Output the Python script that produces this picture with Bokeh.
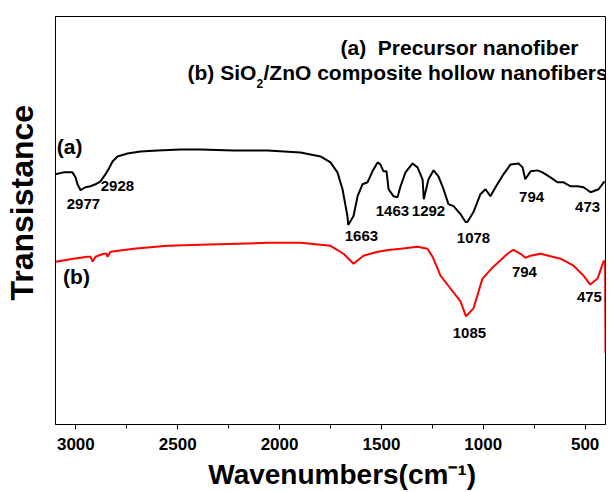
import math
from bokeh.plotting import figure
from bokeh.models import Range1d, SingleIntervalTicker, FixedTicker, Label
from bokeh.embed import file_html
from bokeh.resources import INLINE
from bokeh.core.properties import value

# ---- data (transmittance in arbitrary units) ----
wn_a = [3100, 3061, 3017, 3002, 2992, 2977, 2953, 2928, 2904, 2879, 2855, 2840, 2820, 2796,
        2747, 2683, 2599, 2486, 2388, 2226, 2059, 1897, 1799, 1750, 1716, 1691, 1667, 1663,
        1637, 1617, 1593, 1568, 1544, 1519, 1505, 1490, 1475, 1465, 1441, 1421, 1406, 1382,
        1347, 1323, 1298, 1292, 1269, 1244, 1220, 1195, 1171, 1146, 1112, 1087, 1078, 1048,
        1014, 989, 965, 940, 901, 866, 827, 807, 794, 768, 734, 709, 670, 636, 606, 572, 537,
        508, 473, 434, 405]
t_a = [252, 254, 254, 249, 242, 236, 239, 240, 242, 245, 252, 257, 265, 270,
       273, 275, 276, 277, 277, 276, 276, 274, 270, 264, 254, 237, 210, 201,
       210, 230, 242, 244, 255, 264, 262, 255, 255, 237, 230, 229, 240, 254,
       263, 259, 247, 227, 247, 256, 250, 237, 222, 220, 212, 204, 204, 214,
       232, 237, 230, 239, 252, 262, 263, 259, 247, 255, 256, 254, 249, 244, 244, 240, 240,
       239, 234, 237, 245]

wn_b = [3100, 3012, 2943, 2928, 2918, 2904, 2864, 2850, 2845, 2830, 2717, 2550, 2388, 2059,
        1897, 1750, 1686, 1637, 1588, 1519, 1455, 1406, 1323, 1274, 1249, 1210, 1161, 1112,
        1085, 1048, 1004, 950, 881, 852, 817, 793, 768, 719, 621, 557, 508, 475, 439, 410,
        402, 400]
t_b = [164, 167, 169, 169, 164, 169, 172, 172, 169, 174, 177, 180, 181, 183,
       183, 180, 172, 162, 170, 174, 176, 177, 179, 177, 169, 150, 137, 124,
       109, 117, 147, 159, 172, 176, 172, 168, 170, 172, 167, 160, 150, 141, 147, 164,
       165, 72]

peak_text_a = ["2977", "2928", "1663", "1463", "1292", "1078", "794", "473"]
peak_x_a = [2963, 2796, 1598, 1446, 1269, 1048, 763, 488]
peak_y_a = [222, 240, 190, 215, 215, 188, 229, 219]
peak_text_b = ["1085", "794", "475"]
peak_x_b = [1068, 798, 479]
peak_y_b = [92, 154, 128]

FONT = "Liberation Sans"

p = figure(width=609, height=492, x_range=Range1d(3100, 400), y_range=Range1d(0, 411),
           output_backend="svg", toolbar_location=None,
           min_border_left=55, min_border_right=4, min_border_top=16, min_border_bottom=65,
           outline_line_color="black", outline_line_width=1, background_fill_color="white")
p.grid.visible = False

ax = p.xaxis[0]
ax.ticker = SingleIntervalTicker(interval=500, num_minor_ticks=2)
ax.major_label_text_font = FONT
ax.major_label_text_font_size = "17px"
ax.major_label_text_font_style = "bold"
ax.major_label_text_color = "black"
ax.major_tick_in = 0
ax.major_tick_out = 5
ax.minor_tick_in = 0
ax.minor_tick_out = 4
ax.major_label_standoff = 8
ax.axis_line_color = "black"
ax.major_tick_line_color = "black"
ax.minor_tick_line_color = "black"
ax.axis_label = "\u00a0\u00a0\u00a0Wavenumbers(cm\u207b\u00b9)"
ax.axis_label_text_font = FONT
ax.axis_label_text_font_size = "28px"
ax.axis_label_text_font_style = "bold"
ax.axis_label_text_color = "black"
ax.axis_label_standoff = 6

ay = p.yaxis[0]
ay.ticker = FixedTicker(ticks=[])
ay.major_tick_in = 0
ay.major_tick_out = 0
ay.minor_tick_in = 0
ay.minor_tick_out = 0
ay.axis_line_color = "black"
ay.axis_label = "\u00a0\u00a0\u00a0\u00a0Transistance"
ay.axis_label_text_font = FONT
ay.axis_label_text_font_size = "32px"
ay.axis_label_text_font_style = "bold"
ay.axis_label_text_color = "black"
ay.axis_label_standoff = 16

p.line(wn_a, t_a, line_color="black", line_width=2)
p.line(wn_b, t_b, line_color="#ff0000", line_width=2)

common = dict(text_font=value(FONT), text_font_size="15px", text_font_style="bold",
              text_align="center", text_baseline="middle", text_color="black")
p.text(x=peak_x_a, y=peak_y_a, text=peak_text_a, **common)
p.text(x=peak_x_b, y=peak_y_b, text=peak_text_b, **common)


def lab(x, y, text, size, **kw):
    opts = dict(text_font=FONT, text_font_size=size, text_font_style="bold",
                text_color="black")
    opts.update(kw)
    p.add_layout(Label(x=x, y=y, text=text, **opts))


lab(3031, 280, "(a)", "21px", text_align="center", text_baseline="middle")
lab(2997, 149, "(b)", "21px", text_align="center", text_baseline="middle")

# legend text
lab(1701, 380, "(a)\u00a0\u00a0Precursor nanofiber", "21px", text_baseline="alphabetic")
lab(2452, 355, "(b) SiO", "21px", text_baseline="alphabetic")
lab(2452, 344, "2", "12px", text_baseline="alphabetic", x_offset=69)
lab(2452, 355, "/ZnO composite hollow nanofibers", "21px", text_baseline="alphabetic", x_offset=76)

open("out.html", "w").write(file_html(p, INLINE))
